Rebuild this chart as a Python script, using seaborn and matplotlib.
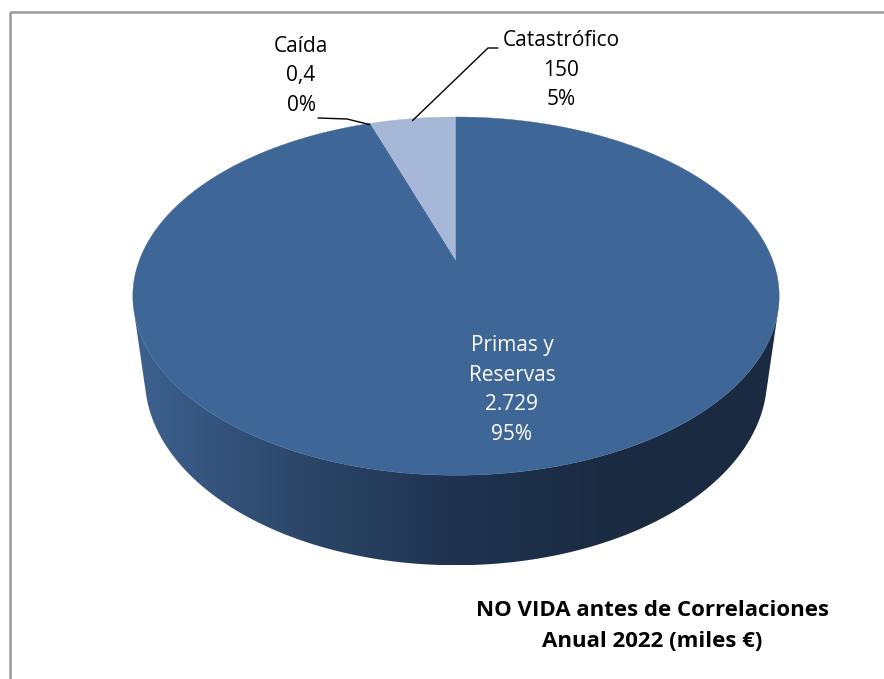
import numpy as np
import matplotlib
matplotlib.use("Agg")
import matplotlib.pyplot as plt
import seaborn as sns
from matplotlib.patches import Polygon, Rectangle
from matplotlib.colors import LinearSegmentedColormap
from matplotlib import font_manager

# data (miles €)
categories = ["Primas y\nReservas", "Catastrófico", "Caída"]
values = [2729, 150, 0.4]
value_labels = ["2.729", "150", "0,4"]
colors = ["#3E6797", "#A7B7D7", "#3E6797"]
title = "NO VIDA antes de Correlaciones\nAnual 2022 (miles €)"

sns.set_theme(style="white")
names = {f.name for f in font_manager.fontManager.ttflist}
narrow = [n for n in ["Liberation Sans Narrow", "Open Sans", "DejaVu Sans"] if n in names]
plt.rcParams["font.family"] = narrow + ["DejaVu Sans"]

fig = plt.figure(figsize=(8.84, 6.79), dpi=100)
ax = fig.add_axes([0, 0, 1, 1])
ax.set_xlim(0, 884)
ax.set_ylim(679, 0)
ax.axis("off")

# frame (only top/left visible)
ax.add_patch(Rectangle((9.5, 11.5), 900, 700, fill=False, edgecolor="#9a9a9a", lw=1.8, zorder=1))

# perspective camera for the 3D pie
elev = np.deg2rad(32.3)
c, s = np.cos(elev), np.sin(elev)
D = 5.25 * c
H = 0.308
CX, CY = 456, 262
K = 145 * (D + c) / s
KX = K * 0.982


def proj(t, z=0.0):
    vx = np.cos(t)
    vy = np.sin(t) + D * c
    vz = z - D * s
    depth = vy * c - vz * s
    up = vy * s + vz * c
    return CX + KX * vx / depth, CY - K * up / depth


total = sum(values)
order = [1, 2, 0]  # counterclockwise from 12 o'clock
start = np.pi / 2
angles = {}
for i in order:
    span = 2 * np.pi * values[i] / total
    angles[i] = (start, start + span)
    start += span

# side wall (front, visible part)
lim = np.arcsin(1 / (D * c))
t_side = np.linspace(np.pi + lim, 2 * np.pi - lim, 300)
xt, yt = proj(t_side, 0)
xb, yb = proj(t_side[::-1], -H)
side = Polygon(np.column_stack([np.r_[xt, xb], np.r_[yt, yb]]), closed=True,
               facecolor="none", edgecolor="none", zorder=2)
ax.add_patch(side)
cmap = LinearSegmentedColormap.from_list("side", ["#3d6190", "#2c4769", "#1f3350", "#1a2a40", "#1b2b42"])
grad = np.linspace(0, 1, 256).reshape(1, -1)
x0, x1 = np.r_[xt, xb].min(), np.r_[xt, xb].max()
y0, y1 = np.r_[yt, yb].min(), np.r_[yt, yb].max()
im = ax.imshow(grad, cmap=cmap, extent=[x0, x1, y1, y0], aspect="auto", zorder=2,
               interpolation="bicubic")
im.set_clip_path(side)

# top face
for i in order:
    a, b = angles[i]
    t = np.linspace(a, b, max(2, int(abs(b - a) * 120)))
    px, py = proj(t, 0)
    pts = np.column_stack([np.r_[CX, px], np.r_[CY, py]])
    ax.add_patch(Polygon(pts, closed=True, facecolor=colors[i], edgecolor=colors[i],
                         lw=0.3, zorder=3))

pct = [f"{round(100 * v / total):.0f}%" for v in values]

# labels
ax.text(512, 390, f"{categories[0]}\n{value_labels[0]}\n{pct[0]}", color="white",
        ha="center", va="center", fontsize=15, linespacing=1.55, zorder=5)
ax.text(561, 70, f"{categories[1]}\n{value_labels[1]}\n{pct[1]}", color="black",
        ha="center", va="center", fontsize=15, linespacing=1.55, zorder=5)
ax.text(301, 76, f"{categories[2]}\n{value_labels[2]}\n{pct[2]}", color="black",
        ha="center", va="center", fontsize=15, linespacing=1.55, zorder=5)

# leader lines
ex, ey = proj(np.mean(angles[1]), 0)
ax.plot([498, 488, ex], [48, 48, ey + 2], color="black", lw=1, zorder=6)
ex, ey = proj(np.mean(angles[2]), 0)
ax.plot([318, 347, ex], [118, 119, ey + 1], color="black", lw=1, zorder=6)

ax.text(652, 626, title, ha="center", va="center", fontsize=16, fontweight="bold",
        linespacing=1.6, color="black", zorder=5)

fig.savefig("out.png", dpi=100, facecolor="white")
